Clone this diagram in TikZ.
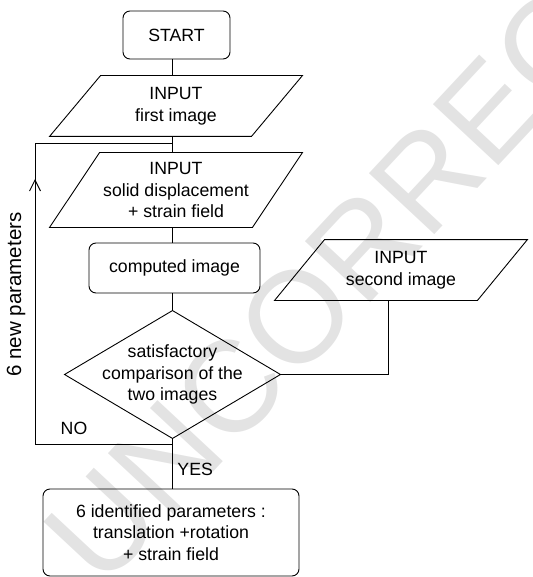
\documentclass[tikz,border=0pt]{standalone}
\usepackage{fontspec}
\setmainfont{Liberation Sans}
\usetikzlibrary{arrows.meta}
\begin{document}
\begin{tikzpicture}[x=1pt,y=-1pt,line width=0.9pt,
  lbl/.style={font=\fontsize{17.7}{21.5}\selectfont, align=center, inner sep=0pt},
  rbox/.style={lbl, draw, rounded corners=7pt},
  conn/.style={line width=0.9pt},
  loopArrow/.style={-{Straight Barb[length=11pt,width=11pt,line width=0.9pt]}},
  wmark/.style={text=black!11, font=\fontsize{130}{130}\selectfont, inner sep=0pt}]
\useasboundingbox (0,0) rectangle (532,577);
% watermark
\node[wmark, rotate=47, anchor=base west] (wm) at (102,591) {UNCORRECTED};
% nodes
\node[rbox, minimum width=107pt, minimum height=48pt] (start) at (176.5,35) {START};
\node[lbl, minimum width=201pt, minimum height=60pt] (in1) at (176,106) {INPUT\\first image};
\draw ([xshift=25.5pt]in1.north west) -- ([xshift=25.5pt]in1.north east) -- ([xshift=-25.5pt]in1.south east) -- ([xshift=-25.5pt]in1.south west) -- cycle;
\node[lbl, minimum width=202pt, minimum height=74pt] (in2) at (176,190) {INPUT\\solid displacement\\+ strain field};
\draw ([xshift=25pt]in2.north west) -- ([xshift=25pt]in2.north east) -- ([xshift=-25pt]in2.south east) -- ([xshift=-25pt]in2.south west) -- cycle;
\node[rbox, minimum width=171pt, minimum height=50pt] (comp) at (174.5,268) {computed image};
\node[lbl, minimum width=202pt, minimum height=60pt] (in3) at (401,270) {INPUT\\second image};
\draw ([xshift=25pt]in3.north west) -- ([xshift=25pt]in3.north east) -- ([xshift=-25pt]in3.south east) -- ([xshift=-25pt]in3.south west) -- cycle;
\node[lbl, minimum width=215pt, minimum height=127pt] (dec) at (172.5,374.5) {satisfactory\\comparison of the\\two images};
\draw (dec.north) -- (dec.east) -- (dec.south) -- (dec.west) -- cycle;
\node[rbox, minimum width=256pt, minimum height=87pt] (final) at (171,532.5) {6 identified parameters :\\translation +rotation\\+ strain field};
% labels
\node[lbl, anchor=base] (no) at (74,434) {NO};
\node[lbl, anchor=base west] (yes) at (177,475) {YES};
\node[lbl, font=\fontsize{20.5}{24}\selectfont, rotate=90] (np) at (16,294.5) {6 new parameters};
% connectors
\draw[conn] (start.south -| dec.north) -- (in1.north -| dec.north);
\draw[conn] (in1.south -| dec.north) -- (in2.north -| dec.north);
\draw[conn] (in2.south -| dec.north) -- (comp.north -| dec.north);
\draw[conn] (comp.south -| dec.north) -- (dec.north);
\draw[conn] (dec.south) -- (final.north -| dec.south);
\draw[conn] ([xshift=-13pt]in3.south) |- (dec.east);
\coordinate (noc) at (172.5,444);
\coordinate (lb) at (35,444);
\coordinate (lt) at (35,143);
\coordinate (jn) at (172.5,143);
\coordinate (arr) at (35,179);
\draw[conn] (noc) -- (lb) -- (lt) -- (jn);
\draw[conn, loopArrow] (lb) -- (arr);
\end{tikzpicture}
\end{document}
